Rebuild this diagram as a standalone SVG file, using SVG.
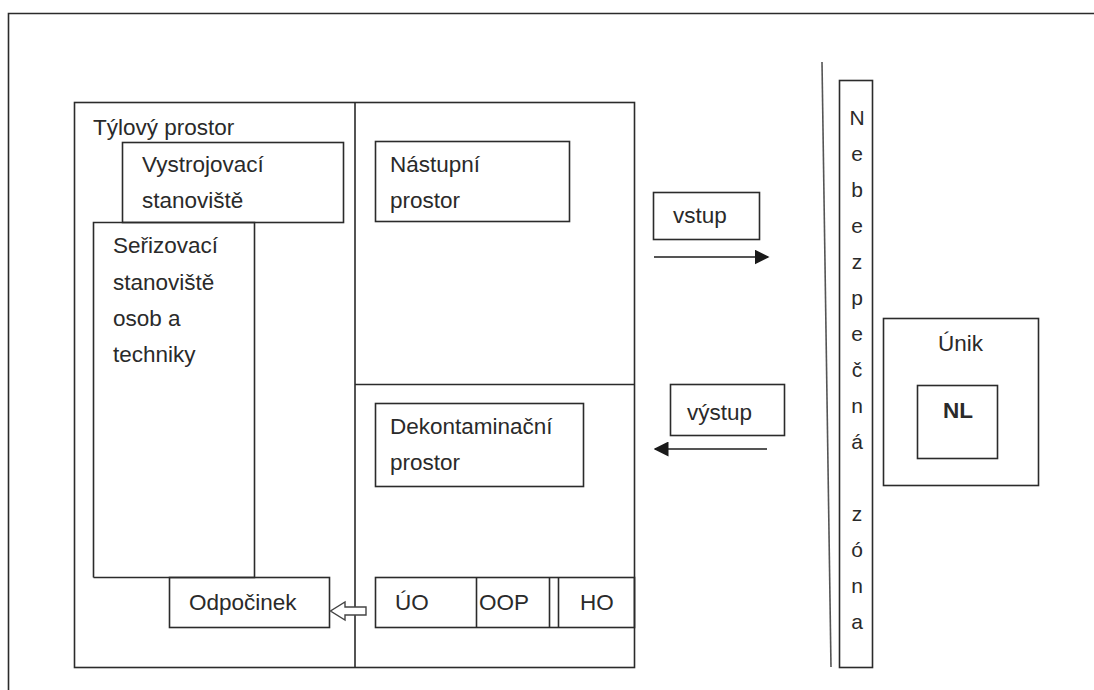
<svg xmlns="http://www.w3.org/2000/svg" width="1094" height="690" viewBox="0 0 1094 690">
  <style>
    .box { fill: none; stroke: #2b2b2b; stroke-width: 1.6; }
    .ln { stroke: #2b2b2b; stroke-width: 1.6; fill: none; }
    .t { font-family: "Liberation Sans", Arial, sans-serif; font-size: 22.5px; fill: #2a2a2a; }
    .b { font-weight: bold; }
    .z { font-family: "Liberation Sans", Arial, sans-serif; font-size: 21px; fill: #2a2a2a; text-anchor: middle; }
  </style>
  <defs>
    <marker id="head" viewBox="0 0 10 10" refX="9" refY="5" markerWidth="7.5" markerHeight="7.5" orient="auto-start-reverse">
      <path d="M0,0 L10,5 L0,10 z" fill="#1a1a1a"/>
    </marker>
  </defs>
  <rect width="1094" height="690" fill="#ffffff"/>

  <!-- page frame (top and left edges) -->
  <path class="ln" d="M8.5,690 V13.5 H1094"/>

  <!-- main area with its dividers -->
  <g id="main-area">
    <rect class="box" x="74.5" y="102.5" width="560" height="565"/>
    <path class="ln" d="M355,102.5 V667.5 M355,384.5 H634.5"/>
    <text class="t" x="93" y="135">Týlový prostor</text>
  </g>

  <g id="vystrojovaci">
    <rect class="box" x="122.5" y="142.5" width="221" height="80" fill="#fff"/>
    <text class="t" x="142" y="172">Vystrojovací</text>
    <text class="t" x="142" y="208">stanoviště</text>
  </g>

  <g id="serizovaci">
    <path class="ln" d="M93.5,577.5 V222.5 H254.5 V577.5 H93.5"/>
    <text class="t" x="113" y="253">Seřizovací</text>
    <text class="t" x="113" y="290">stanoviště</text>
    <text class="t" x="113" y="326">osob a</text>
    <text class="t" x="113" y="362">techniky</text>
  </g>

  <g id="nastupni">
    <rect class="box" x="375.5" y="141.5" width="194" height="80"/>
    <text class="t" x="390" y="172">Nástupní</text>
    <text class="t" x="390" y="208">prostor</text>
  </g>

  <g id="dekontaminacni">
    <rect class="box" x="375.5" y="403.5" width="208" height="83"/>
    <text class="t" x="390" y="434">Dekontaminační</text>
    <text class="t" x="390" y="470">prostor</text>
  </g>

  <g id="odpocinek">
    <rect class="box" x="169.5" y="577.5" width="160" height="50" fill="#fff"/>
    <text class="t" x="189" y="610">Odpočinek</text>
  </g>

  <g id="stanoviste">
    <rect class="box" x="375.5" y="577.5" width="259" height="50"/>
    <path class="ln" d="M476.5,577.5 V627.5 M549.5,577.5 V627.5 M558.5,577.5 V627.5"/>
    <text class="t" x="395" y="610">ÚO</text>
    <text class="t" x="479" y="610">OOP</text>
    <text class="t" x="580" y="610">HO</text>
  </g>

  <g id="vstup">
    <rect class="box" x="653.5" y="192.5" width="106" height="47"/>
    <text class="t" x="673" y="223">vstup</text>
  </g>

  <g id="vystup">
    <rect class="box" x="670.5" y="384.5" width="114" height="51"/>
    <text class="t" x="687" y="420">výstup</text>
  </g>

  <g id="nebezpecna-zona">
    <rect class="box" x="839.5" y="80.5" width="33" height="587"/>
    <text class="z" x="857" y="125">N</text>
    <text class="z" x="857" y="161">e</text>
    <text class="z" x="857" y="197">b</text>
    <text class="z" x="857" y="233">e</text>
    <text class="z" x="857" y="269">z</text>
    <text class="z" x="857" y="305">p</text>
    <text class="z" x="857" y="341">e</text>
    <text class="z" x="857" y="377">č</text>
    <text class="z" x="857" y="413">n</text>
    <text class="z" x="857" y="449">á</text>
    <text class="z" x="857" y="521">z</text>
    <text class="z" x="857" y="557">ó</text>
    <text class="z" x="857" y="593">n</text>
    <text class="z" x="857" y="629">a</text>
  </g>

  <g id="unik">
    <rect class="box" x="883.5" y="318.5" width="155" height="167"/>
    <text class="t" x="938" y="351">Únik</text>
  </g>

  <g id="nl">
    <rect class="box" x="917.5" y="385.5" width="80" height="73"/>
    <text class="t b" x="943" y="418">NL</text>
  </g>

  <g id="connectors">
    <!-- zone boundary -->
    <line x1="822" y1="62" x2="831" y2="667" stroke="#555" stroke-width="1.6"/>
    <!-- entry / exit -->
    <line x1="654" y1="257" x2="768" y2="257" stroke="#555" stroke-width="2" marker-end="url(#head)"/>
    <line x1="767" y1="449" x2="655" y2="449" stroke="#555" stroke-width="2" marker-end="url(#head)"/>
    <!-- hollow arrow towards rest area -->
    <path d="M366,607 H345 V602 L330.5,611 L345,620 V615 H366 Z" fill="#fff" stroke="#444" stroke-width="1.4"/>
  </g>
</svg>
